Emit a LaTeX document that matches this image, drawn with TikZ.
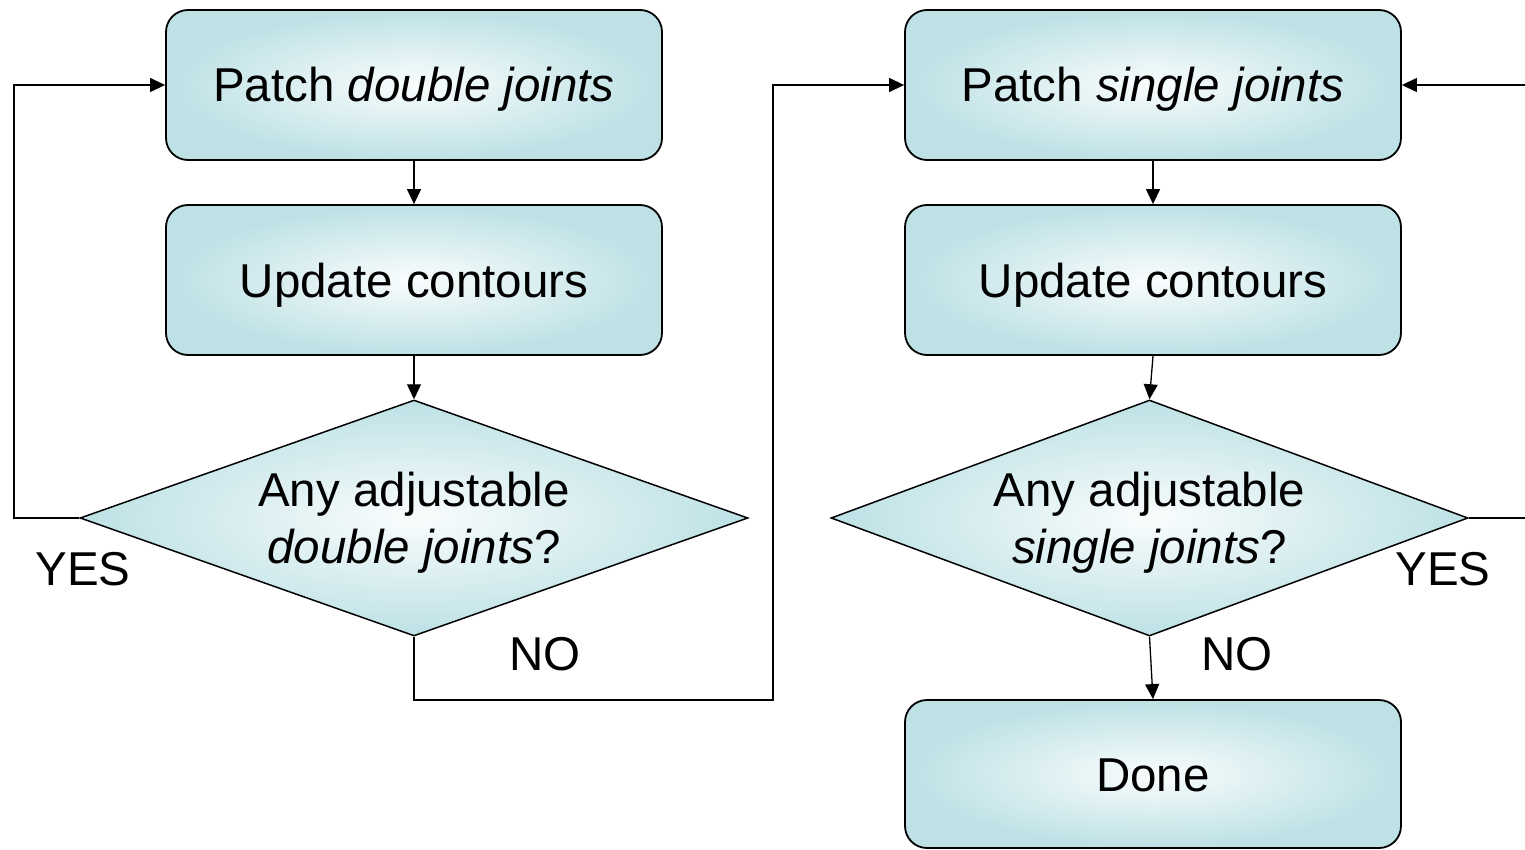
\documentclass[tikz,border=0pt]{standalone}
\usepackage{fontspec}
\setmainfont{Liberation Sans}
\usetikzlibrary{shapes.geometric,arrows.meta}
\definecolor{boxc}{RGB}{189,225,229}
\begin{document}
\begin{tikzpicture}[x=1pt,y=-1pt,
 every node/.style={font=\fontsize{47.5}{57}\selectfont},
 procbox/.style={draw, line width=1.8pt, rounded corners=22pt, minimum width=496pt, minimum height=150pt, inner color=boxc!8, outer color=boxc, inner sep=0pt, text height=34pt, text depth=0pt},
 decision/.style={diamond, draw, line width=1.5pt, minimum height=236pt, shape aspect=2.8, inner sep=0pt, align=center, inner color=boxc!8, outer color=boxc, text height=91pt, text depth=0pt},
 conn/.style={line width=1.3pt, -{Triangle[length=15pt,width=14pt]}},
 lab/.style={inner sep=0pt, text height=34pt, text depth=0pt}]
\useasboundingbox (0,0) rectangle (1525,850);
% left column
\node[procbox] (p1) at (414,85) {Patch \textit{double joints}};
\node[procbox] (u1) at (414,280) {Update contours};
\node[decision, minimum width=668pt] (d1) at (414,518) {Any adjustable\\\textit{double joints}?};
% right column
\node[procbox] (p2) at (1153,85) {Patch \textit{single joints}};
\node[procbox] (u2) at (1153,280) {Update contours};
\node[decision, minimum width=637pt] (d2) at (1149.5,518) {Any adjustable\\\textit{single joints}?};
\node[procbox, minimum height=148pt] (done) at (1153,774) {Done};
% routing points
\coordinate (l1) at (14,518);
\coordinate (l2) at (14,85);
\coordinate (n1) at (414,700);
\coordinate (n2) at (773,700);
\coordinate (n3) at (773,85);
\coordinate (r1) at (1532,518);
\coordinate (r2) at (1532,85);
% connectors
\draw[conn] (p1) -- (u1);
\draw[conn] (u1) -- (d1);
\draw[conn] (d1.west) -- (l1) -- (l2) -- (p1.west);
\draw[conn] (d1.south) -- (n1) -- (n2) -- (n3) -- (p2.west);
\draw[conn] (p2) -- (u2);
\draw[conn] (u2.south) -- (d2.north);
\draw[conn] (d2.east) -- (r1) -- (r2) -- (p2.east);
\draw[conn] (d2.south) -- (done.north);
% labels
\node[lab] (yes1) at (83,568) {YES};
\node[lab] (no1) at (545,653) {NO};
\node[lab] (yes2) at (1443,568) {YES};
\node[lab] (no2) at (1237,653) {NO};
\end{tikzpicture}
\end{document}
